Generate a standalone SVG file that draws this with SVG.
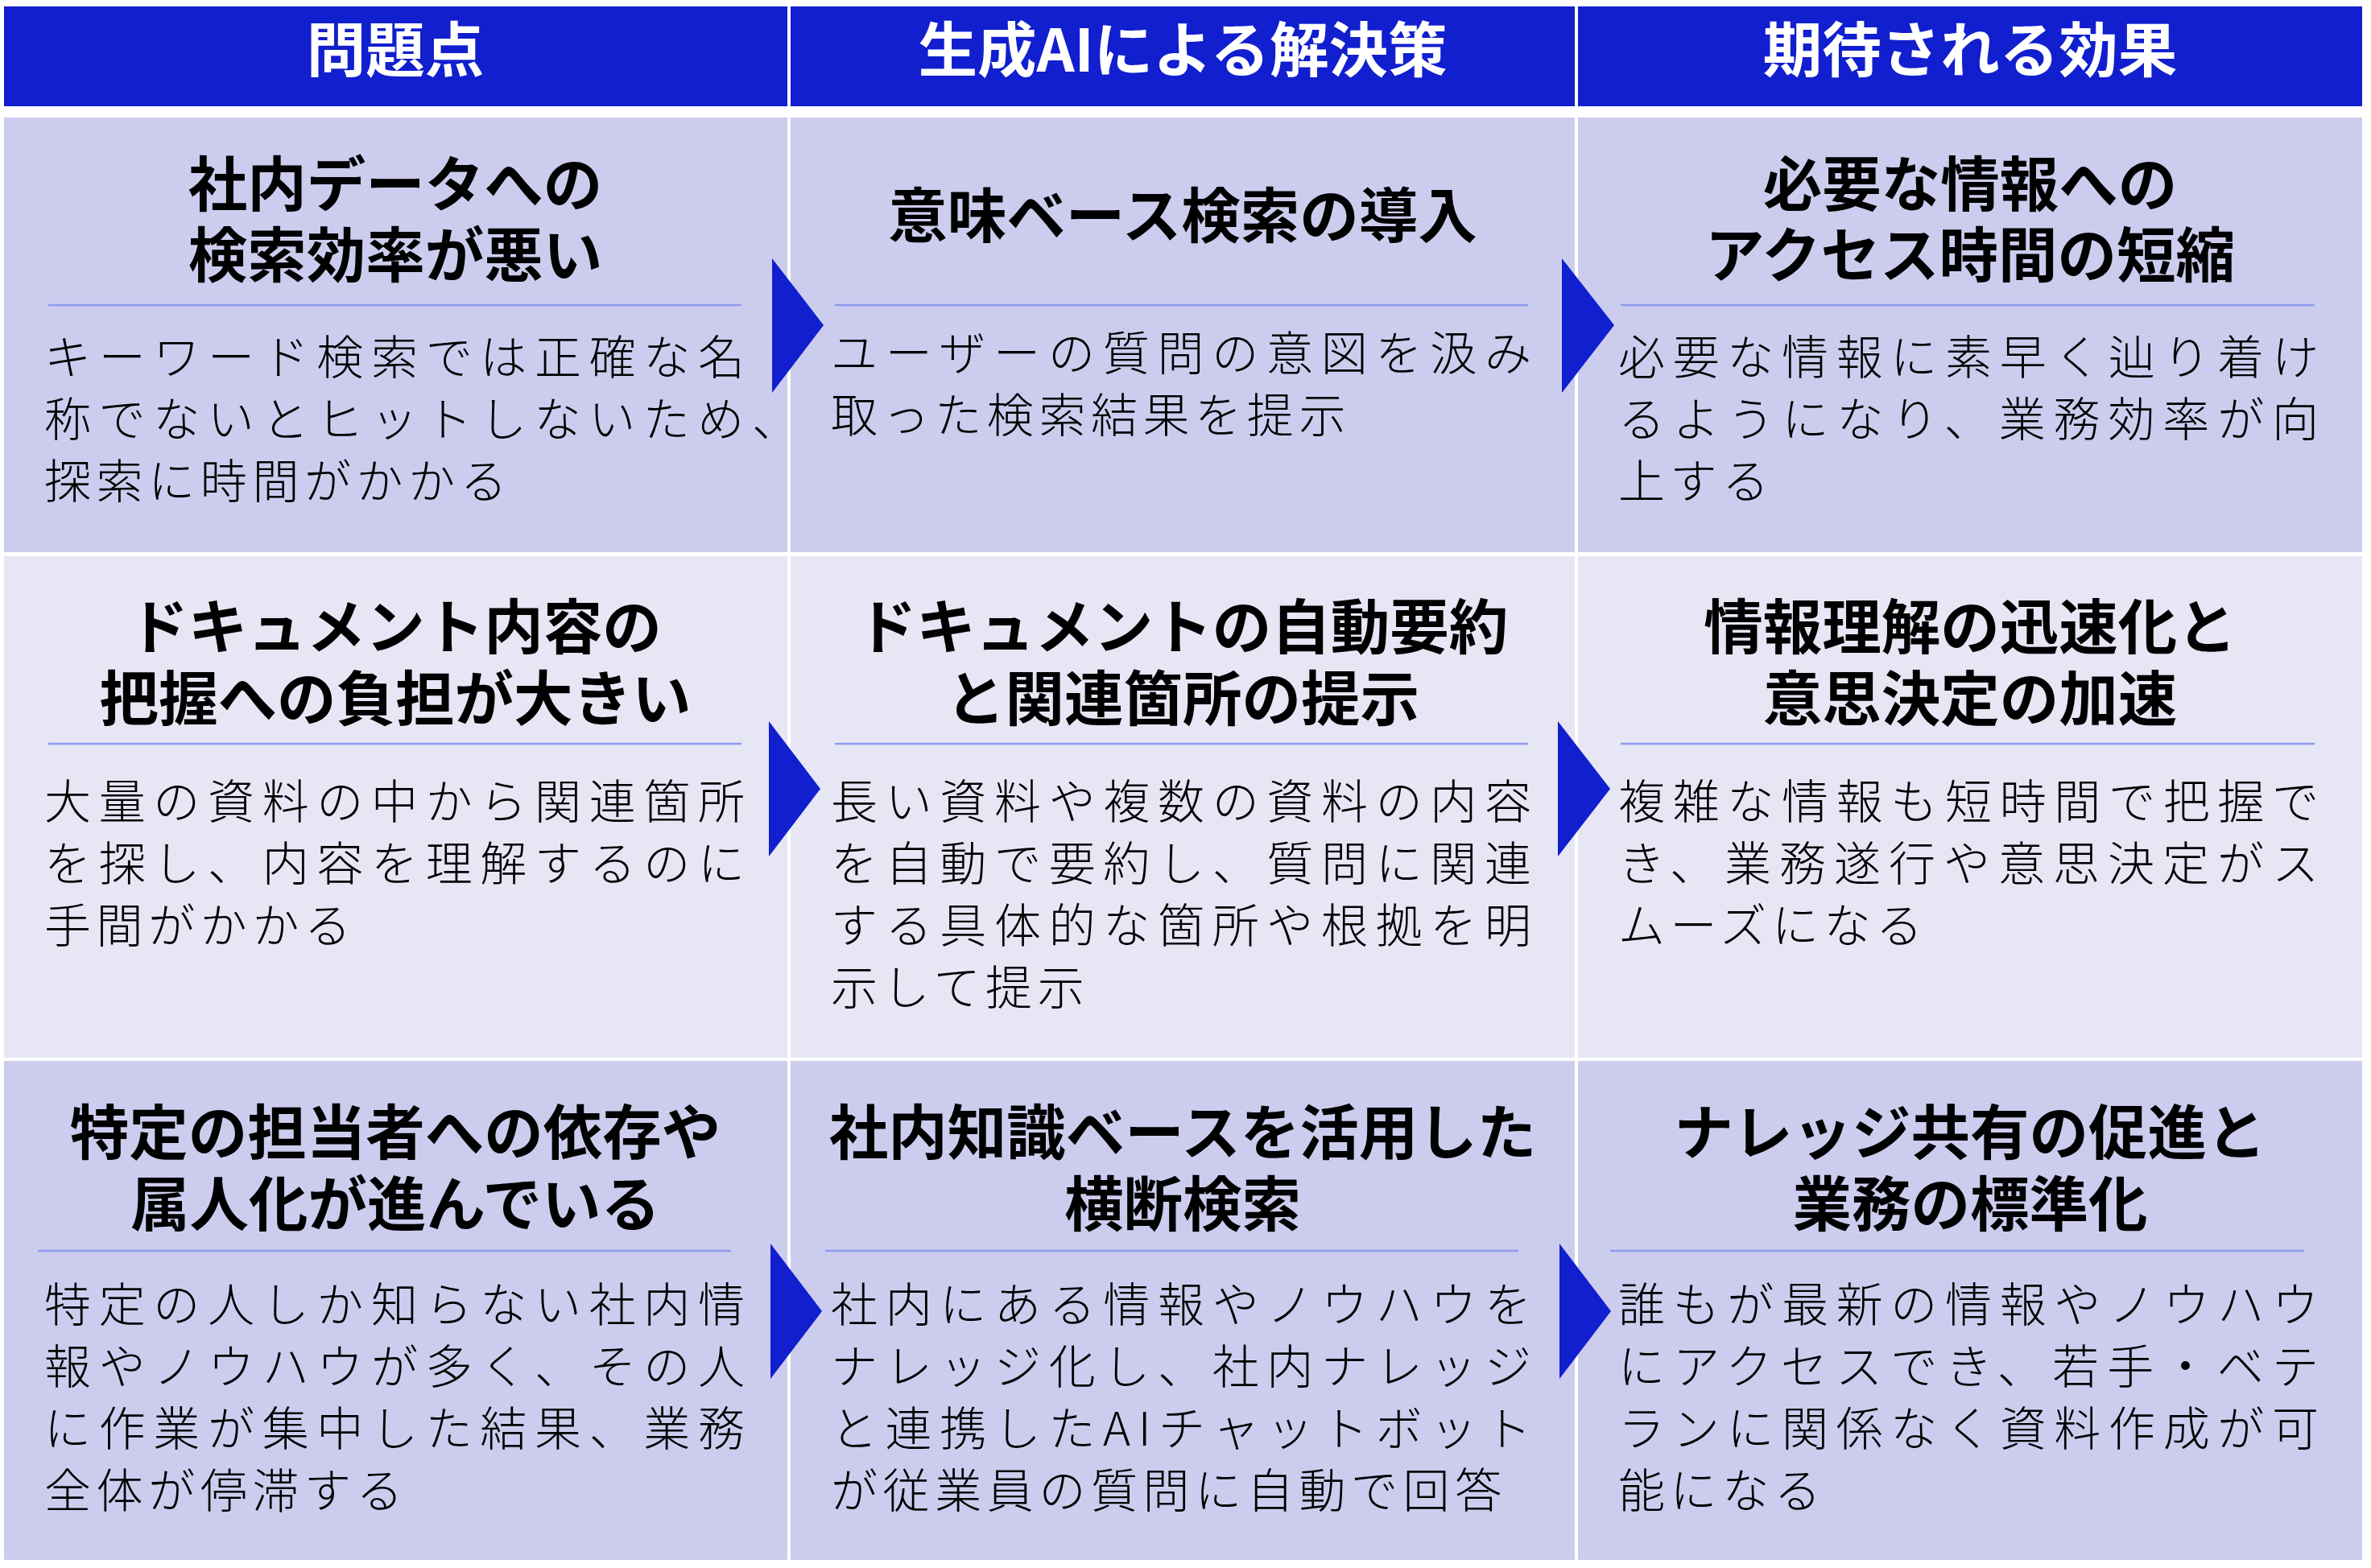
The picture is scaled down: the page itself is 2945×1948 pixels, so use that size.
<svg xmlns="http://www.w3.org/2000/svg" width="2945" height="1948" viewBox="0 0 2945 1948">
<style>
text{font-family:"Noto Sans CJK JP","Noto Sans CJK SC",sans-serif}
.hdr{fill:#111fcf}
.hdrt{font-size:73.5px;font-weight:700;fill:#ffffff;text-anchor:middle}
.r1{fill:#cccdee}
.r2{fill:#e6e6f5}
.ttl{font-size:73.5px;font-weight:700;fill:#000000;text-anchor:middle}
.bd{font-size:58px;font-weight:300;fill:#000000}
.ls{letter-spacing:6.6px}
.dv{stroke:#8e9bf0;stroke-width:2.5}
.arr{fill:#111fcf}
</style>
<rect x="0" y="0" width="2945" height="1948" fill="#ffffff"/>

<g id="header-problem">
<rect class="hdr" x="5" y="8" width="973" height="124"/>
<text class="hdrt" x="491" y="89">問題点</text>
</g>
<g id="header-solution">
<rect class="hdr" x="982" y="8" width="974" height="124"/>
<text class="hdrt" x="1469" y="89">生成AIによる解決策</text>
</g>
<g id="header-effect">
<rect class="hdr" x="1960" y="8" width="974" height="124"/>
<text class="hdrt" x="2447" y="89">期待される効果</text>
</g>

<!-- Row 1 -->
<g id="r1-problem">
<rect class="r1" x="5" y="146" width="973" height="540"/>
<text class="ttl" x="491" y="256">社内データへの</text>
<text class="ttl" x="491" y="344">検索効率が悪い</text>
<line class="dv" x1="60" y1="379" x2="921" y2="379"/>
<text class="bd" x="55" y="465" textLength="870" lengthAdjust="spacing">キーワード検索では正確な名</text>
<text class="bd" x="55" y="542" textLength="937" lengthAdjust="spacing">称でないとヒットしないため、</text>
<text class="bd ls" x="55" y="619">探索に時間がかかる</text>
</g>
<g id="r1-solution">
<rect class="r1" x="982" y="146" width="974" height="540"/>
<text class="ttl" x="1469" y="295">意味ベース検索の導入</text>
<line class="dv" x1="1037" y1="379" x2="1898" y2="379"/>
<text class="bd" x="1032" y="460" textLength="870" lengthAdjust="spacing">ユーザーの質問の意図を汲み</text>
<text class="bd ls" x="1032" y="537">取った検索結果を提示</text>
</g>
<g id="r1-effect">
<rect class="r1" x="1960" y="146" width="974" height="540"/>
<text class="ttl" x="2447" y="256">必要な情報への</text>
<text class="ttl" x="2447" y="344">アクセス時間の短縮</text>
<line class="dv" x1="2013" y1="379" x2="2875" y2="379"/>
<text class="bd" x="2010" y="465" textLength="870" lengthAdjust="spacing">必要な情報に素早く辿り着け</text>
<text class="bd" x="2010" y="542" textLength="870" lengthAdjust="spacing">るようになり、業務効率が向</text>
<text class="bd ls" x="2010" y="619">上する</text>
</g>

<!-- Row 2 -->
<g id="r2-problem">
<rect class="r2" x="5" y="691" width="973" height="623"/>
<text class="ttl" x="491" y="806">ドキュメント内容の</text>
<text class="ttl" x="491" y="895">把握への負担が大きい</text>
<line class="dv" x1="60" y1="924" x2="921" y2="924"/>
<text class="bd" x="55" y="1017" textLength="870" lengthAdjust="spacing">大量の資料の中から関連箇所</text>
<text class="bd" x="55" y="1094" textLength="870" lengthAdjust="spacing">を探し、内容を理解するのに</text>
<text class="bd ls" x="55" y="1171">手間がかかる</text>
</g>
<g id="r2-solution">
<rect class="r2" x="982" y="691" width="974" height="623"/>
<text class="ttl" x="1469" y="806">ドキュメントの自動要約</text>
<text class="ttl" x="1469" y="895">と関連箇所の提示</text>
<line class="dv" x1="1037" y1="924" x2="1898" y2="924"/>
<text class="bd" x="1032" y="1017" textLength="870" lengthAdjust="spacing">長い資料や複数の資料の内容</text>
<text class="bd" x="1032" y="1094" textLength="870" lengthAdjust="spacing">を自動で要約し、質問に関連</text>
<text class="bd" x="1032" y="1171" textLength="870" lengthAdjust="spacing">する具体的な箇所や根拠を明</text>
<text class="bd ls" x="1032" y="1248">示して提示</text>
</g>
<g id="r2-effect">
<rect class="r2" x="1960" y="691" width="974" height="623"/>
<text class="ttl" x="2447" y="806">情報理解の迅速化と</text>
<text class="ttl" x="2447" y="895">意思決定の加速</text>
<line class="dv" x1="2013" y1="924" x2="2875" y2="924"/>
<text class="bd" x="2010" y="1017" textLength="870" lengthAdjust="spacing">複雑な情報も短時間で把握で</text>
<text class="bd" x="2010" y="1094" textLength="870" lengthAdjust="spacing">き、業務遂行や意思決定がス</text>
<text class="bd ls" x="2010" y="1171">ムーズになる</text>
</g>

<!-- Row 3 -->
<g id="r3-problem">
<rect class="r1" x="5" y="1318" width="973" height="620"/>
<text class="ttl" x="491" y="1434">特定の担当者への依存や</text>
<text class="ttl" x="491" y="1523">属人化が進んでいる</text>
<line class="dv" x1="47" y1="1554" x2="908" y2="1554"/>
<text class="bd" x="55" y="1642" textLength="870" lengthAdjust="spacing">特定の人しか知らない社内情</text>
<text class="bd" x="55" y="1719" textLength="870" lengthAdjust="spacing">報やノウハウが多く、その人</text>
<text class="bd" x="55" y="1796" textLength="870" lengthAdjust="spacing">に作業が集中した結果、業務</text>
<text class="bd ls" x="55" y="1873">全体が停滞する</text>
</g>
<g id="r3-solution">
<rect class="r1" x="982" y="1318" width="974" height="620"/>
<text class="ttl" x="1469" y="1434">社内知識ベースを活用した</text>
<text class="ttl" x="1469" y="1523">横断検索</text>
<line class="dv" x1="1025" y1="1554" x2="1886" y2="1554"/>
<text class="bd" x="1032" y="1642" textLength="870" lengthAdjust="spacing">社内にある情報やノウハウを</text>
<text class="bd" x="1032" y="1719" textLength="870" lengthAdjust="spacing">ナレッジ化し、社内ナレッジ</text>
<text class="bd" x="1032" y="1796" textLength="870" lengthAdjust="spacing">と連携したAIチャットボット</text>
<text class="bd ls" x="1032" y="1873">が従業員の質問に自動で回答</text>
</g>
<g id="r3-effect">
<rect class="r1" x="1960" y="1318" width="974" height="620"/>
<text class="ttl" x="2447" y="1434">ナレッジ共有の促進と</text>
<text class="ttl" x="2447" y="1523">業務の標準化</text>
<line class="dv" x1="2000" y1="1554" x2="2862" y2="1554"/>
<text class="bd" x="2010" y="1642" textLength="870" lengthAdjust="spacing">誰もが最新の情報やノウハウ</text>
<text class="bd" x="2010" y="1719" textLength="870" lengthAdjust="spacing">にアクセスでき、若手・ベテ</text>
<text class="bd" x="2010" y="1796" textLength="870" lengthAdjust="spacing">ランに関係なく資料作成が可</text>
<text class="bd ls" x="2010" y="1873">能になる</text>
</g>

<g id="connectors">
<polygon class="arr" points="959,321 1023,404 959,488"/>
<polygon class="arr" points="1940,321 2005,404 1940,488"/>
<polygon class="arr" points="955,896 1019,980 955,1064"/>
<polygon class="arr" points="1935,896 2000,980 1935,1064"/>
<polygon class="arr" points="957,1545 1021,1629 957,1713"/>
<polygon class="arr" points="1937,1545 2001,1629 1937,1713"/>
</g>
</svg>
